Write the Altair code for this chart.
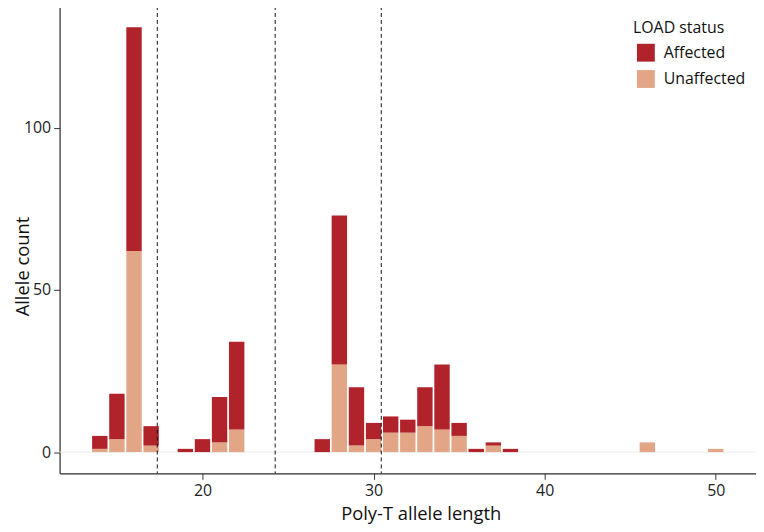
import altair as alt
import pandas as pd

lengths = [14, 15, 16, 17, 19, 20, 21, 22, 27, 28, 29, 30, 31, 32, 33, 34, 35, 36, 37, 38, 46, 50]
affected = [4, 14, 69, 6, 1, 4, 14, 27, 4, 46, 18, 5, 5, 4, 12, 20, 4, 1, 1, 1, 0, 0]
unaffected = [1, 4, 62, 2, 0, 0, 3, 7, 0, 27, 2, 4, 6, 6, 8, 7, 5, 0, 2, 0, 3, 1]
cutoffs = [17.36, 24.25, 30.45]
status_names = ["Affected", "Unaffected"]
status_colors = ["#B0232B", "#E2A686"]

rows = []
for L, a, u in zip(lengths, affected, unaffected):
    rows.append({"length": L, "status": "Unaffected", "ord": 0, "count": u})
    rows.append({"length": L, "status": "Affected", "ord": 1, "count": a})
df = pd.DataFrame(rows)

FONT = "Open Sans"
xscale = alt.Scale(domain=[11.65, 52.35], nice=False, zero=False)
yscale = alt.Scale(domain=[-6.55, 137.55], nice=False, zero=False)

axis_common = dict(grid=False, domainColor="#333333", domainWidth=1.2,
                   tickColor="#333333", tickSize=6, labelFontSize=16, labelColor="#222222",
                   labelFont=FONT, titleFont=FONT, titleFontSize=18.5, titleFontWeight="normal",
                   titleColor="#111111", labelPadding=3)

bars = alt.Chart(df).transform_stack(
    stack="count", groupby=["length"], as_=["y0", "y1"], sort=[alt.SortField("ord")]
).transform_calculate(
    xa="datum.length - 0.45", xb="datum.length + 0.45"
).mark_bar().encode(
    x=alt.X("xa:Q", scale=xscale, title="Poly-T allele length",
            axis=alt.Axis(values=[20, 30, 40, 50], titleX=364, titleY=47,
                          titleBaseline="alphabetic", titleAlign="center", **axis_common)),
    x2="xb:Q",
    y=alt.Y("y0:Q", scale=yscale, title="Allele count",
            axis=alt.Axis(values=[0, 50, 100], titleY=262, titleX=-31, titleAngle=270,
                          titleBaseline="alphabetic", titleAlign="center", **axis_common)),
    y2="y1:Q",
    color=alt.Color("status:N", scale=alt.Scale(domain=status_names, range=status_colors),
                    legend=alt.Legend(title="LOAD status", orient="none", legendX=578, legendY=14,
                                      padding=0, symbolType="square", symbolSize=324,
                                      symbolStrokeWidth=0, symbolOffset=4,
                                      labelFontSize=16, labelFont=FONT, titleFont=FONT,
                                      titleFontSize=16, titleFontWeight="normal", titleColor="#111111",
                                      labelColor="#111111", rowPadding=8.5, titlePadding=8,
                                      labelOffset=9)),
)

zero_line = alt.Chart(pd.DataFrame({"y": [0]})).mark_rule(color="#EBEBEB", strokeWidth=1).encode(
    y=alt.Y("y:Q", scale=yscale)
)

vlines = alt.Chart(pd.DataFrame({"x": cutoffs})).mark_rule(
    color="#111111", strokeWidth=1, strokeDash=[4, 3]
).encode(x=alt.X("x:Q", scale=xscale))

chart = alt.layer(zero_line, bars, vlines).properties(
    width=702, height=471,
    autosize=alt.AutoSizeParams(type="none"),
    padding={"left": 52, "top": -4, "right": 0, "bottom": 49},
).configure_view(stroke=None).configure(font=FONT)

chart.save("out.html", embed_options={"renderer": "svg", "actions": False})
